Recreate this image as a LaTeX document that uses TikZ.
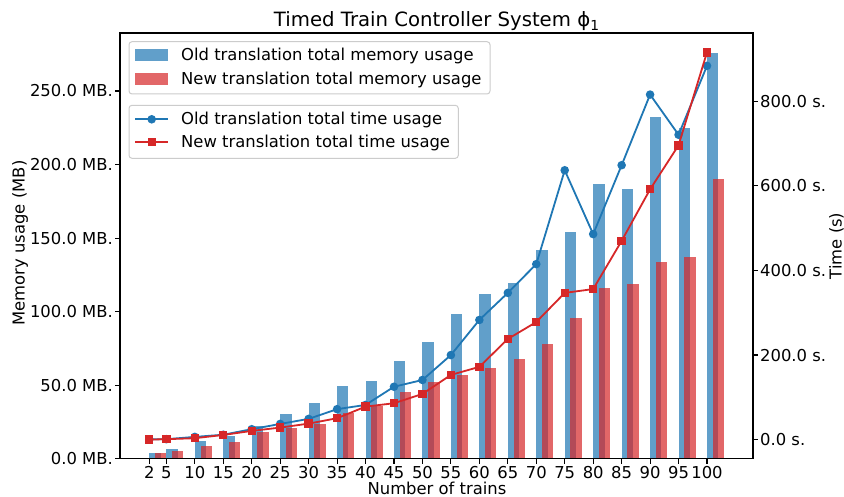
\documentclass[tikz,border=0pt]{standalone}
\usepackage{fontspec}
\setmainfont{DejaVu Sans}
\usetikzlibrary{calc}
\definecolor{tabblue}{HTML}{1F77B4}
\definecolor{tabred}{HTML}{D62728}
\definecolor{legedge}{HTML}{CCCCCC}
% data: trains / old MB / new MB / old s / new s
\def\chartdata{2/4.1/4.1/0.5/0, 5/6.6/5.2/1/1, 10/12.0/8.6/6.4/3.3, 15/15.6/11.4/11.5/11,
  20/22.4/18.4/24.6/20.6, 25/30.6/21.1/37.1/28.4, 30/38/23.8/49/37.8, 35/49.6/31/72/50.6,
  40/53/35.8/82/78, 45/66.4/45.3/125/86, 50/79.3/52/141/108, 55/98.4/57/200/153,
  60/112/61.7/283/172, 65/119.4/67.8/347/238, 70/142/78/415/278, 75/154/95.7/637/347,
  80/186.6/116/486/356, 85/183.3/118.7/649/470, 90/232.4/133.7/816/592, 95/224.9/137/721/696,
  100/275.9/190/884/916}
\tikzset{
  basefont/.style={font=\fontsize{16.4}{19.7}\selectfont},
  oldbar/.style={fill=tabblue, fill opacity=0.7},
  newbar/.style={fill=tabred, fill opacity=0.7},
  oldline/.style={draw=tabblue, line width=1.8pt, line join=round},
  newline/.style={draw=tabred, line width=1.8pt, line join=round},
  oldmark/.style={fill=tabblue},
  newmark/.style={fill=tabred},
  frame/.style={draw=black, line width=1.1pt},
  tickmark/.style={draw=black, line width=1.1pt},
  legendbox/.style={draw=legedge, fill=white, fill opacity=0.8, text opacity=1, line width=1pt, rounded corners=3pt},
  lbl/.style={basefont, inner sep=0pt, text=black},
}
\begin{document}
\begin{tikzpicture}[x=1pt, y=-1pt]
\useasboundingbox (0,0) rectangle (844,497);
\fill[white] (0,0) rectangle (844,497);

% memory bars, old then new
\foreach \n/\om/\nm/\ot/\nt in \chartdata {
  \fill[oldbar] ({137.9+5.691*\n}, 458.7) rectangle ({137.9+5.691*(\n+2)}, {458.7-1.4708*\om});
}
\foreach \n/\om/\nm/\ot/\nt in \chartdata {
  \fill[newbar] ({137.9+5.691*(\n+1)}, 458.7) rectangle ({137.9+5.691*(\n+3)}, {458.7-1.4708*\nm});
}

% time series points
\foreach \n/\om/\nm/\ot/\nt [count=\i] in \chartdata {
  \coordinate (o\i) at ({137.9+5.691*\n}, {439.6-0.4228*\ot});
  \coordinate (r\i) at ({137.9+5.691*\n}, {439.6-0.4228*\nt});
}
\draw[oldline] (o1) \foreach \i in {2,...,21} { -- (o\i) };
\foreach \i in {1,...,21} { \fill[oldmark] (o\i) circle (4.3); }
\draw[newline] (r1) \foreach \i in {2,...,21} { -- (r\i) };
\foreach \i in {1,...,21} { \fill[newmark] ($(r\i)+(-4.2,-4.2)$) rectangle ($(r\i)+(4.2,4.2)$); }

% axes frame
\draw[frame] (120,33) rectangle (753,458.7);

% left axis ticks
\foreach \v [count=\k] in {0,50,100,150,200,250} {
  \draw[tickmark] (120,{458.7-1.4708*\v}) -- (115,{458.7-1.4708*\v});
  \node[lbl, anchor=base east] (ml\k) at (113,{458.7-1.4708*\v+6}) {\v.0 MB.};
}
% right axis ticks
\foreach \v [count=\k] in {0,200,400,600,800} {
  \draw[tickmark] (753,{439.6-0.4228*\v}) -- (758,{439.6-0.4228*\v});
  \node[lbl, anchor=base west] (tl\k) at (760,{439.6-0.4228*\v+6}) {\v.0 s.};
}
% bottom ticks
\foreach \n [count=\k] in {2,5,10,15,20,25,30,35,40,45,50,55,60,65,70,75,80,85,90,95,100} {
  \draw[tickmark] ({137.9+5.691*\n},458.7) -- ({137.9+5.691*\n},463.5);
  \node[lbl, anchor=base] (xl\k) at ({137.9+5.691*\n},478) {\n};
}

% axis labels and title
\node[lbl, anchor=base] (xlabel) at (437,494.5) {Number of trains};
\node[lbl, anchor=base, rotate=90] (ylabel) at (24.5,243) {Memory usage (MB)};
\node[lbl, anchor=base, rotate=90] (tlabel) at (841.5,246) {Time (s)};
\node[inner sep=0pt, anchor=base, font=\fontsize{19.7}{23.6}\selectfont] (title) at (436.5,27)
  {Timed Train Controller System ϕ\raisebox{-3.5pt}{\fontsize{13.8}{16}\selectfont 1}};

% legend for memory bars
\draw[legendbox] (129,41.7) rectangle (490,94);
\fill[oldbar] (135,49.3) rectangle (168.3,60.7);
\fill[newbar] (135,73.3) rectangle (168.3,84.7);
\node[lbl, anchor=base west] (leg1) at (181,60.7) {Old translation total memory usage};
\node[lbl, anchor=base west] (leg2) at (181,84.7) {New translation total memory usage};

% legend for time lines
\draw[legendbox] (129,105.3) rectangle (458.3,158.3);
\coordinate (la1) at (135,119.3);
\coordinate (lb1) at (168.3,119.3);
\coordinate (lm1) at (151.7,119.3);
\coordinate (la2) at (135,142);
\coordinate (lb2) at (168.3,142);
\coordinate (lm2) at (151.7,142);
\draw[oldline] (la1) -- (lb1);
\fill[oldmark] (lm1) circle (4.3);
\draw[newline] (la2) -- (lb2);
\fill[newmark] ($(lm2)+(-4.2,-4.2)$) rectangle ($(lm2)+(4.2,4.2)$);
\node[lbl, anchor=base west] (leg3) at (181,125) {Old translation total time usage};
\node[lbl, anchor=base west] (leg4) at (181,147.7) {New translation total time usage};
\end{tikzpicture}
\end{document}
